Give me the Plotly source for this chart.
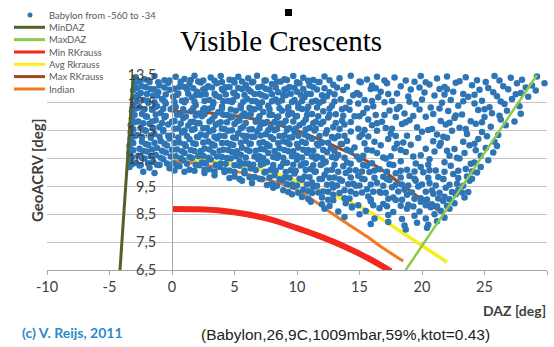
import plotly.graph_objects as go

# ---------------- data ----------------
babylon_points = [
    # band 13.3-13.5
    (-2.9,13.42),(-2.2,13.35),(-1.4,13.46),(-0.6,13.31),(0.3,13.44),(1.0,13.36),(1.8,13.47),(2.5,13.3),(3.1,13.41),
    (3.9,13.46),(4.6,13.33),(5.3,13.44),(6.1,13.38),(6.8,13.47),(7.4,13.3),(8.2,13.43),(9.0,13.35),(9.7,13.46),
    (10.5,13.4),(11.3,13.32),(12.2,13.45),(13.4,13.38),(14.3,13.47),(15.6,13.34),(16.4,13.44),(17.8,13.41),
    (18.7,13.3),(19.9,13.46),(21.2,13.37),(22.0,13.45),(23.5,13.42),(24.4,13.31),(25.8,13.46),(27.1,13.4),
    (28.0,13.33),(29.2,13.45),
    # band 13.05-13.28
    (-3.0,13.2),(-2.4,13.1),(-1.8,13.25),(-1.0,13.12),(-0.3,13.22),(0.6,13.08),(1.4,13.19),(2.1,13.27),(2.9,13.1),
    (3.6,13.2),(4.3,13.06),(5.0,13.23),(5.9,13.14),(6.5,13.26),(7.2,13.09),(8.0,13.18),(8.7,13.27),(9.4,13.07),
    (10.2,13.2),(11.0,13.12),(11.8,13.25),(12.9,13.15),(14.0,13.08),(15.1,13.24),(16.0,13.12),(17.2,13.2),
    (18.3,13.1),(19.4,13.26),(20.6,13.16),(21.8,13.07),(22.7,13.22),(24.0,13.13),(25.1,13.25),(26.5,13.1),
    (27.6,13.2),(28.8,13.12),(29.8,13.2),
    # band 12.8-13.05
    (-3.1,12.95),(-2.5,12.85),(-1.7,13.0),(-1.1,12.88),(-0.2,12.97),(0.5,12.84),(1.2,12.99),(2.0,12.9),(2.7,13.02),
    (3.4,12.83),(4.1,12.94),(4.9,12.86),(5.6,13.0),(6.3,12.91),(7.0,12.82),(7.8,12.97),(8.5,12.88),(9.2,13.01),
    (10.0,12.9),(10.8,12.83),(11.6,12.98),(12.6,12.88),(13.7,12.96),(14.8,12.85),(15.9,13.0),(16.7,12.9),
    (18.0,12.84),(19.1,12.98),(20.2,12.87),(21.4,13.0),(22.5,12.9),(23.3,12.82),(24.6,12.97),(25.7,12.88),
    (26.9,12.99),(27.9,12.85),(29.1,12.94),
    # band 12.55-12.8
    (-3.0,12.7),(-2.3,12.6),(-1.5,12.76),(-0.8,12.64),(0.1,12.72),(0.8,12.58),(1.6,12.69),(2.3,12.78),(3.0,12.6),
    (3.8,12.71),(4.5,12.57),(5.2,12.75),(6.0,12.65),(6.7,12.56),(7.5,12.73),(8.3,12.62),(9.1,12.77),(9.8,12.6),
    (10.6,12.7),(11.5,12.58),(12.4,12.74),(13.5,12.63),(14.5,12.77),(15.4,12.6),(16.5,12.7),(17.6,12.57),
    (18.9,12.73),(20.0,12.62),(21.0,12.76),(22.3,12.6),(23.7,12.72),(24.8,12.58),(26.0,12.74),(27.2,12.64),
    (28.5,12.72),
    # band 12.3-12.55
    (-3.1,12.45),(-2.6,12.33),(-1.9,12.5),(-1.2,12.38),(-0.5,12.48),(0.3,12.35),(1.0,12.52),(1.9,12.42),(2.6,12.31),
    (3.3,12.47),(4.0,12.37),(4.8,12.53),(5.5,12.4),(6.2,12.32),(6.9,12.49),(7.7,12.39),(8.5,12.52),(9.3,12.34),
    (10.1,12.46),(10.9,12.36),(11.8,12.5),(12.8,12.4),(13.9,12.32),(14.9,12.48),(16.1,12.38),(17.0,12.52),
    (18.2,12.35),(19.5,12.45),(20.7,12.33),(21.6,12.5),(22.9,12.4),(24.2,12.48),(25.4,12.34),(26.6,12.46),
    (27.8,12.38),
    # band 12.05-12.3
    (-3.2,12.2),(-2.4,12.1),(-1.6,12.25),(-0.9,12.14),(-0.1,12.27),(0.7,12.08),(1.5,12.2),(2.2,12.12),(2.9,12.28),
    (3.7,12.16),(4.4,12.06),(5.1,12.22),(5.8,12.12),(6.6,12.27),(7.3,12.17),(8.0,12.07),(8.8,12.22),(9.6,12.13),
    (10.4,12.28),(11.2,12.1),(12.1,12.2),(13.1,12.09),(14.2,12.25),(15.3,12.14),(16.3,12.06),(17.4,12.23),
    (18.6,12.12),(19.8,12.26),(20.9,12.1),(22.1,12.21),(23.2,12.08),(24.5,12.24),(25.6,12.13),(26.8,12.22),
    (27.9,12.11),
    # band 11.8-12.05
    (-3.2,11.95),(-2.7,11.83),(-2.0,12.0),(-1.3,11.88),(-0.6,11.98),(0.2,11.85),(0.9,11.96),(1.7,11.82),(2.4,12.02),
    (3.2,11.9),(3.9,11.8),(4.7,11.97),(5.4,11.87),(6.1,12.03),(6.9,11.92),(7.6,11.81),(8.4,11.98),(9.1,11.86),
    (9.9,12.01),(10.7,11.9),(11.5,11.82),(12.5,11.97),(13.6,11.86),(14.6,12.02),(15.7,11.9),(16.8,11.82),
    (17.9,11.99),(19.0,11.88),(20.3,12.0),(21.5,11.85),(22.6,11.96),(23.9,11.84),(25.0,11.99),(26.3,11.9),
    (27.4,11.83),
    # band 11.55-11.8
    (-3.3,11.7),(-2.5,11.6),(-1.8,11.75),(-1.0,11.63),(-0.3,11.72),(0.5,11.58),(1.3,11.69),(2.0,11.77),(2.8,11.6),
    (3.5,11.71),(4.2,11.56),(5.0,11.74),(5.7,11.64),(6.4,11.55),(7.1,11.72),(7.9,11.62),(8.6,11.76),(9.4,11.59),
    (10.2,11.7),(11.0,11.6),(11.9,11.75),(12.9,11.63),(13.8,11.72),(14.9,11.57),(16.0,11.7),(17.1,11.6),
    (18.4,11.74),(19.6,11.62),(20.8,11.56),(21.9,11.72),(23.0,11.61),(24.3,11.75),(25.5,11.64),(26.7,11.7),
    # band 11.3-11.55
    (-3.3,11.45),(-2.8,11.35),(-2.1,11.5),(-1.4,11.38),(-0.7,11.48),(0.0,11.33),(0.8,11.44),(1.6,11.53),(2.3,11.36),
    (3.0,11.47),(3.8,11.32),(4.5,11.5),(5.3,11.4),(6.0,11.31),(6.8,11.48),(7.5,11.37),(8.2,11.52),(9.0,11.34),
    (9.8,11.45),(10.6,11.36),(11.4,11.51),(12.3,11.4),(13.3,11.31),(14.3,11.47),(15.2,11.36),(16.4,11.5),
    (17.5,11.39),(18.8,11.32),(20.0,11.46),(21.2,11.36),(22.4,11.5),(23.6,11.38),(24.8,11.45),(26.1,11.35),
    # band 11.05-11.3
    (-3.3,11.2),(-2.4,11.1),(-1.7,11.25),(-0.9,11.13),(-0.2,11.22),(0.6,11.08),(1.4,11.19),(2.1,11.27),(2.9,11.11),
    (3.6,11.22),(4.4,11.06),(5.1,11.24),(5.9,11.14),(6.6,11.28),(7.3,11.09),(8.1,11.2),(8.9,11.12),(9.6,11.26),
    (10.4,11.1),(11.2,11.21),(12.0,11.07),(13.0,11.23),(14.0,11.13),(15.0,11.27),(16.2,11.1),(17.3,11.2),
    (18.5,11.08),(19.7,11.24),(20.9,11.12),(22.0,11.25),(23.3,11.1),(24.5,11.2),(25.8,11.1),
    # band 10.8-11.05
    (-3.4,10.95),(-2.6,10.85),(-1.9,11.0),(-1.2,10.88),(-0.4,10.97),(0.4,10.83),(1.1,10.95),(1.9,11.02),(2.6,10.86),
    (3.4,10.97),(4.1,10.82),(4.9,10.99),(5.6,10.89),(6.3,11.03),(7.1,10.84),(7.8,10.95),(8.6,10.87),(9.4,11.01),
    (10.1,10.9),(10.9,10.81),(11.7,10.97),(12.7,10.87),(13.6,11.02),(14.6,10.9),(15.6,10.82),(16.7,10.98),
    (17.8,10.87),(19.1,11.0),(20.3,10.85),(21.4,10.96),(22.6,10.84),(23.8,10.98),(25.1,10.88),(26.0,10.95),
    # band 10.55-10.8
    (-3.4,10.7),(-2.7,10.6),(-2.0,10.75),(-1.3,10.63),(-0.5,10.72),(0.3,10.58),(1.0,10.7),(1.8,10.77),(2.5,10.6),
    (3.3,10.71),(4.0,10.56),(4.8,10.74),(5.5,10.64),(6.2,10.77),(7.0,10.58),(7.7,10.7),(8.5,10.62),(9.3,10.76),
    (10.0,10.6),(10.8,10.71),(11.6,10.57),(12.4,10.73),(13.3,10.63),(14.3,10.77),(15.3,10.6),(16.4,10.7),
    (17.5,10.58),(18.7,10.74),(19.9,10.62),(21.0,10.75),(22.2,10.6),(23.4,10.7),(24.7,10.6),(25.7,10.72),
    # band 10.3-10.55
    (-3.4,10.45),(-2.9,10.35),(-2.2,10.5),(-1.5,10.38),(-0.7,10.48),(0.1,10.33),(0.9,10.44),(1.6,10.52),(2.4,10.36),
    (3.1,10.47),(3.9,10.32),(4.7,10.5),(5.4,10.4),(6.1,10.31),(6.9,10.48),(7.6,10.37),(8.4,10.52),(9.2,10.35),
    (10.0,10.46),(10.7,10.33),(11.5,10.49),(12.3,10.38),(13.1,10.52),(14.0,10.36),(15.0,10.47),(16.0,10.33),
    (17.1,10.5),(18.3,10.4),(19.5,10.32),(20.6,10.48),(21.8,10.37),(23.0,10.5),(24.2,10.36),(25.3,10.44),
    # band 10.05-10.3
    (-3.4,10.2),(-2.6,10.25),(-1.8,10.17),(-1.0,10.27),(-0.2,10.15),(0.6,10.22),(1.4,10.1),(2.2,10.26),(3.0,10.12),
    (3.8,10.2),(4.6,10.07),(5.4,10.24),(6.3,10.14),(7.1,10.28),(7.9,10.1),(8.7,10.21),(9.5,10.08),(10.3,10.25),
    (11.1,10.13),(11.9,10.27),(12.8,10.1),(13.7,10.22),(14.7,10.08),(15.6,10.24),(16.6,10.12),(17.7,10.27),
    (18.8,10.1),(19.9,10.2),(21.1,10.07),(22.3,10.24),(23.5,10.13),(24.7,10.2),
    (-2.3,10.03),(-1.4,9.98),
    # band 9.8-10.05
    (2.6,9.98),(3.4,9.9),(4.2,10.02),(5.0,9.86),(5.8,9.97),(6.6,9.84),(7.4,10.0),(8.2,9.9),(9.0,9.81),(9.8,9.96),
    (10.6,9.86),(11.4,10.03),(12.2,9.92),(13.0,9.82),(13.9,9.98),(14.9,9.88),(15.8,10.02),(16.9,9.85),(17.9,9.97),
    (19.0,9.87),(20.1,10.01),(21.3,9.84),(22.5,9.95),(23.6,9.86),(24.4,10.0),
    # band 9.55-9.8
    (5.6,9.7),(6.4,9.62),(7.2,9.76),(8.0,9.6),(8.8,9.72),(9.6,9.57),(10.4,9.74),(11.2,9.64),(12.0,9.77),(12.8,9.58),
    (13.6,9.7),(14.5,9.6),(15.4,9.76),(16.4,9.63),(17.4,9.73),(18.4,9.57),(19.5,9.7),(20.6,9.62),(21.7,9.77),
    (22.8,9.6),(23.8,9.7),
    # band 9.3-9.55
    (8.1,9.45),(8.9,9.36),(9.7,9.5),(10.5,9.38),(11.3,9.48),(12.1,9.32),(12.9,9.46),(13.8,9.36),(14.7,9.52),
    (15.6,9.4),(16.6,9.31),(17.6,9.47),(18.6,9.38),(19.7,9.5),(20.8,9.35),(21.9,9.45),(22.9,9.37),(23.7,9.3),
    # band 9.05-9.3
    (9.6,9.22),(10.4,9.12),(11.2,9.26),(12.0,9.1),(12.9,9.2),(13.8,9.08),(14.7,9.24),(15.7,9.14),(16.7,9.27),
    (17.7,9.1),(18.8,9.2),(19.9,9.08),(20.9,9.24),(21.8,9.13),(22.7,9.22),(23.4,9.1),
    # band 8.8-9.05
    (11.1,8.95),(12.0,8.86),(12.9,9.0),(13.9,8.9),(14.9,8.82),(15.9,8.97),(16.9,8.87),(17.9,9.01),(18.9,8.84),
    (19.9,8.95),(20.8,8.86),(21.7,8.98),(22.6,8.9),
    # band 8.55-8.8
    (12.2,8.7),(13.3,8.6),(14.4,8.74),(15.5,8.62),(16.6,8.72),(17.7,8.58),(18.8,8.7),(19.8,8.6),(20.7,8.75),
    (21.5,8.63),(22.2,8.7),
    # band 8.3-8.55
    (13.8,8.4),(15.0,8.5),(16.2,8.35),(17.3,8.47),(18.4,8.33),(19.4,8.45),(20.3,8.35),(21.0,8.5),(21.8,8.38),
    # band 7.85-8.3
    (15.9,8.15),(17.3,8.22),(18.6,8.1),(19.6,8.2),(20.5,8.12),(21.2,8.25),(18.7,7.95),(20.4,8.02),
]

babylon_points_more = [
    (-2.6,13.27),(-1.9,13.31),(-1.1,13.24),(-0.2,13.3),(0.7,13.26),(1.5,13.32),(2.3,13.23),(3.4,13.29),(4.0,13.25),
    (4.9,13.31),(5.6,13.27),(6.4,13.23),(7.5,13.3),(8.4,13.26),(9.2,13.32),(10.0,13.24),(10.9,13.29),(11.7,13.25),
    (12.6,13.31),(15.0,13.27),(17.0,13.3),(20.3,13.24),(23.0,13.28),(26.2,13.3),
    (-2.8,13.03),(-2.1,13.06),(-1.4,12.99),(-0.6,13.05),(0.2,13.01),(1.0,13.07),(1.7,13.02),(2.5,12.98),(3.2,13.05),
    (4.0,13.0),(4.6,13.07),(5.3,13.03),(6.1,12.99),(6.9,13.06),(7.5,13.01),(8.3,13.05),(9.0,12.98),(9.8,13.04),
    (10.5,13.0),(11.3,13.06),(12.2,13.02),(13.2,13.05),(16.3,13.02),(19.8,13.05),(22.0,12.99),(25.3,13.03),(28.3,13.05),
    (-2.7,12.79),(-2.0,12.82),(-1.2,12.76),(-0.5,12.8),(0.4,12.78),(1.3,12.83),(1.9,12.77),(2.7,12.81),(3.5,12.76),
    (4.3,12.8),(5.0,12.84),(5.8,12.78),(6.6,12.82),(7.2,12.77),(8.0,12.81),(8.9,12.78),(9.5,12.83),(10.3,12.79),
    (11.1,12.82),(12.0,12.77),(13.0,12.81),(15.0,12.79),(17.3,12.82),(21.8,12.8),(24.2,12.79),(27.5,12.81),
    (-2.8,12.55),(-2.0,12.58),(-1.4,12.52),(-0.6,12.56),(0.2,12.53),(1.1,12.59),(1.8,12.54),(2.6,12.57),(3.3,12.52),
    (4.1,12.56),(4.9,12.6),(5.7,12.54),(6.4,12.57),(7.2,12.52),(8.0,12.56),(8.8,12.59),(9.6,12.53),(10.4,12.57),
    (11.2,12.54),(12.1,12.58),(13.0,12.55),(14.2,12.53),(16.0,12.57),(19.0,12.54),(23.3,12.56),(26.3,12.55),
    (-2.9,12.3),(-2.2,12.27),(-1.4,12.33),(-0.7,12.29),(0.1,12.32),(0.9,12.27),(1.7,12.31),(2.5,12.26),(3.2,12.33),
    (4.0,12.29),(4.7,12.26),(5.5,12.31),(6.3,12.28),(7.0,12.33),(7.8,12.27),(8.6,12.31),(9.3,12.26),(10.1,12.32),
    (10.8,12.28),(11.6,12.33),(12.6,12.29),(13.6,12.27),(15.6,12.31),(18.0,12.28),(21.4,12.3),(25.0,12.27),
    (-3.0,12.06),(-2.1,12.02),(-1.3,12.08),(-0.5,12.03),(0.4,12.07),(1.1,12.01),(1.9,12.05),(2.6,12.09),(3.4,12.03),
    (4.1,12.07),(4.8,12.01),(5.6,12.05),(6.3,12.09),(7.0,12.02),(7.8,12.06),(8.5,12.01),(9.3,12.07),(10.0,12.03),
    (10.8,12.06),(11.7,12.02),(12.6,12.07),(13.7,12.04),(15.0,12.02),(17.0,12.06),(19.3,12.03),(22.7,12.05),(26.2,12.04),
    (-3.0,11.8),(-2.3,11.77),(-1.6,11.83),(-0.8,11.78),(0.0,11.82),(0.7,11.76),(1.5,11.81),(2.2,11.77),(3.0,11.83),
    (3.7,11.76),(4.4,11.8),(5.2,11.84),(5.9,11.78),(6.7,11.82),(7.4,11.77),(8.2,11.81),(8.9,11.76),(9.7,11.83),
    (10.5,11.79),(11.3,11.77),(12.1,11.82),(13.1,11.78),(14.3,11.81),(16.4,11.77),(18.7,11.8),(22.2,11.79),(24.8,11.8),
    (-3.1,11.55),(-2.2,11.52),(-1.5,11.58),(-0.7,11.53),(0.2,11.57),(1.0,11.51),(1.8,11.56),(2.5,11.59),(3.3,11.53),
    (4.0,11.57),(4.8,11.52),(5.5,11.58),(6.2,11.54),(7.0,11.59),(7.7,11.52),(8.4,11.56),(9.2,11.53),(9.9,11.58),
    (10.7,11.54),(11.5,11.57),(12.4,11.52),(13.4,11.56),(15.4,11.53),(17.6,11.57),(20.5,11.53),(23.5,11.56),
    (-3.0,11.3),(-2.4,11.27),(-1.7,11.33),(-1.0,11.28),(-0.3,11.32),(0.5,11.26),(1.2,11.31),(2.0,11.27),(2.7,11.33),
    (3.4,11.28),(4.2,11.31),(4.9,11.26),(5.7,11.32),(6.4,11.28),(7.1,11.33),(7.9,11.27),(8.6,11.31),(9.4,11.26),
    (10.1,11.32),(10.9,11.28),(11.8,11.31),(12.8,11.27),(13.8,11.32),(15.7,11.29),(17.9,11.31),(21.7,11.28),(25.2,11.3),
    (-3.1,11.06),(-2.1,11.02),(-1.4,11.07),(-0.6,11.03),(0.2,11.06),(1.0,11.01),(1.7,11.05),(2.5,11.08),(3.2,11.02),
    (4.0,11.06),(4.7,11.01),(5.5,11.07),(6.2,11.03),(7.0,11.06),(7.6,11.01),(8.5,11.05),(9.2,11.08),(10.0,11.02),
    (10.7,11.06),(11.6,11.03),(12.5,11.07),(13.5,11.02),(15.4,11.05),(18.0,11.03),(21.5,11.06),(24.2,11.03),
    (-3.1,10.8),(-2.3,10.77),(-1.6,10.83),(-0.8,10.78),(0.0,10.82),(0.8,10.76),(1.5,10.81),(2.3,10.77),(3.0,10.83),
    (3.8,10.78),(4.5,10.81),(5.2,10.76),(6.0,10.82),(6.7,10.78),(7.4,10.83),(8.2,10.77),(9.0,10.81),(9.7,10.76),
    (10.5,10.82),(11.3,10.78),(12.1,10.81),(13.0,10.77),(14.0,10.82),(16.0,10.79),(18.3,10.81),(22.0,10.78),(24.3,10.8),
    (-3.2,10.55),(-2.4,10.52),(-1.7,10.58),(-0.9,10.53),(-0.1,10.57),(0.7,10.51),(1.4,10.56),(2.1,10.59),(2.9,10.53),
    (3.6,10.57),(4.4,10.52),(5.1,10.58),(5.9,10.54),(6.6,10.57),(7.3,10.52),(8.1,10.56),(8.9,10.53),(9.6,10.58),
    (10.4,10.54),(11.2,10.57),(12.0,10.52),(12.8,10.56),(13.8,10.53),(14.8,10.57),(16.9,10.54),(19.3,10.57),(22.8,10.53),
    (-3.2,10.3),(-2.5,10.27),(-1.9,10.33),(-1.2,10.28),(-0.4,10.32),(0.4,10.26),(1.2,10.31),(1.9,10.28),(2.7,10.33),
    (3.5,10.27),(4.3,10.31),(5.0,10.26),(5.8,10.32),(6.5,10.28),(7.3,10.31),(8.1,10.27),(8.9,10.33),(9.7,10.28),
    (10.5,10.31),(11.3,10.26),(12.1,10.32),(13.0,10.28),(14.3,10.31),(15.3,10.27),(17.4,10.3),(20.5,10.28),(23.9,10.31),
    (0.2,10.07),(1.0,10.03),(1.8,10.06),(2.6,10.1),(3.4,10.04),(4.2,10.08),(5.0,10.02),(5.8,10.06),(6.7,10.09),
    (7.5,10.03),(8.3,10.07),(9.1,10.02),(9.9,10.06),(10.7,10.09),(11.5,10.04),(12.4,10.07),(13.3,10.03),(14.2,10.08),
    (15.2,10.04),(16.2,10.07),(17.2,10.03),(18.3,10.06),(19.4,10.04),(20.6,10.08),(21.8,10.03),(22.9,10.06),(24.0,10.04),
    (4.6,9.8),(5.4,9.77),(6.2,9.83),(7.0,9.78),(7.8,9.82),(8.6,9.76),(9.4,9.81),(10.2,9.78),(11.0,9.83),(11.8,9.77),
    (12.6,9.81),(13.4,9.76),(14.3,9.82),(15.2,9.78),(16.2,9.81),(17.2,9.77),(18.3,9.82),(19.4,9.78),(20.5,9.81),
    (21.7,9.77),(22.9,9.8),(24.0,9.78),
    (7.6,9.55),(8.4,9.52),(9.2,9.58),(10.0,9.53),(10.8,9.57),(11.6,9.52),(12.4,9.56),(13.2,9.53),(14.1,9.58),
    (15.0,9.53),(15.9,9.57),(16.9,9.52),(17.9,9.56),(18.9,9.53),(20.0,9.57),(21.1,9.53),(22.2,9.56),(23.3,9.52),
    (9.3,9.3),(10.1,9.27),(10.9,9.33),(11.7,9.28),(12.5,9.31),(13.4,9.26),(14.3,9.32),(15.2,9.28),(16.1,9.31),
    (17.1,9.27),(18.1,9.32),(19.2,9.28),(20.3,9.31),(21.4,9.27),(22.4,9.3),(23.2,9.28),
    (10.9,9.05),(12.5,9.02),(14.2,9.07),(15.9,9.03),(17.3,9.06),(18.4,9.02),(19.4,9.06),(20.4,9.03),(21.3,9.07),(22.2,9.04),
    (12.6,8.8),(14.4,8.78),(16.1,8.82),(17.2,8.79),(18.3,8.81),(19.3,8.78),(20.3,8.82),(21.2,8.79),(22.0,8.8),
]

babylon_daz = [p[0] for p in babylon_points + babylon_points_more]
babylon_geoacrv = [p[1] for p in babylon_points + babylon_points_more]

min_daz_x = [-4.16, -3.1]
min_daz_y = [6.5, 13.5]
max_daz_x = [18.7, 29.2]
max_daz_y = [6.5, 13.5]

min_rk_x = [0, 2, 4, 6, 8, 10, 12, 14, 16, 17.5]
min_rk_y = [8.69, 8.68, 8.63, 8.5, 8.3, 8.0, 7.68, 7.3, 6.85, 6.45]

avg_rk_x = [0, 2, 4.5, 7.3, 10.5, 13.2, 15.8, 18.5, 22.0]
avg_rk_y = [10.47, 10.45, 10.32, 10.09, 9.61, 9.13, 8.59, 7.82, 6.78]

max_rk_x = [0, 3.5, 7.0, 10.2, 13.4, 16.4, 19.3, 21.7]
max_rk_y = [12.2, 12.12, 11.88, 11.47, 10.87, 10.21, 9.25, 8.53]

indian_x = [0, 2, 4, 5.2, 7.3, 8.7, 10, 11.3, 12.6, 14, 15.6, 17, 18.5]
indian_y = [10.4, 10.32, 10.15, 10.03, 9.79, 9.6, 9.37, 9.0, 8.59, 8.17, 7.7, 7.25, 6.82]

x_ticks = [-10, -5, 0, 5, 10, 15, 20, 25, 30]
x_tick_labels = ["-10", "-5", "0", "5", "10", "15", "20", "25", "30"]

legend_names = ["Babylon from -560 to -34", "MinDAZ", "MaxDAZ", "Min RKrauss",
                "Avg Rkrauss", "Max RKrauss", "Indian"]

# ---------------- styles ----------------
C_DOT = "#2E75B6"
C_MIN = "#4F6228"
C_MAX = "#8CCB4A"
C_RED = "#F2281E"
C_YEL = "#F7EE1A"
C_BRN = "#9C4A1C"
C_ORG = "#F07A22"

W, H = 554, 347
L, R, T, B = 47, 7, 75, 77


def px(x):
    return (x - L) / (W - L - R)


def py(y):
    return (H - B - y) / (H - T - B)


fig = go.Figure()
fig.add_trace(go.Scatter(x=max_rk_x, y=max_rk_y, mode="lines", name="Max RKrauss",
                         line=dict(color=C_BRN, width=3, shape="spline")))
fig.add_trace(go.Scatter(x=avg_rk_x, y=avg_rk_y, mode="lines", name="Avg Rkrauss",
                         line=dict(color=C_YEL, width=3.5, shape="spline")))
fig.add_trace(go.Scatter(x=indian_x, y=indian_y, mode="lines", name="Indian",
                         line=dict(color=C_ORG, width=3, shape="spline")))
fig.add_trace(go.Scatter(x=min_rk_x, y=min_rk_y, mode="lines", name="Min RKrauss",
                         line=dict(color=C_RED, width=6, shape="spline")))
fig.add_trace(go.Scatter(x=babylon_daz, y=babylon_geoacrv, mode="markers",
                         name=legend_names[0], cliponaxis=False,
                         marker=dict(color=C_DOT, size=6.5, line=dict(width=0))))
fig.add_trace(go.Scatter(x=min_daz_x, y=min_daz_y, mode="lines", name="MinDAZ",
                         line=dict(color=C_MIN, width=3)))
fig.add_trace(go.Scatter(x=max_daz_x, y=max_daz_y, mode="lines", name="MaxDAZ",
                         line=dict(color=C_MAX, width=2.5)))

tick_font = dict(family="Lato, Liberation Sans, sans-serif", size=14.5, color="#404040")

fig.update_layout(
    width=W, height=H,
    margin=dict(l=L, r=R, t=T, b=B),
    paper_bgcolor="white", plot_bgcolor="white",
    showlegend=False,
    separators=", ",
    xaxis=dict(range=[-10, 30], tickmode="array", tickvals=x_ticks, ticktext=x_tick_labels,
               showgrid=False, zeroline=False, showline=True, linecolor="#A6A6A6", linewidth=1,
               ticks="outside", ticklen=4, tickcolor="#A6A6A6", tickfont=tick_font),
    yaxis=dict(range=[6.5, 13.5], tick0=6.5, dtick=1, tickformat=".1f",
               showgrid=True, gridcolor="#C4C4C4", gridwidth=1, zeroline=False,
               showline=True, linecolor="#A6A6A6", linewidth=1,
               anchor="free", position=0.25, ticks="", ticklabelstandoff=13,
               tickfont=tick_font),
)

annotations = [
    dict(text="Visible Crescents", x=px(281), y=py(41), xanchor="center", yanchor="middle",
         font=dict(family="Liberation Serif, Times New Roman, serif", size=29, color="#000000")),
    dict(text="<b>GeoACRV [deg]</b>", x=px(37), y=py(171), xanchor="center", yanchor="middle",
         textangle=-90, font=dict(family="Lato, sans-serif", size=15, color="#404040")),
    dict(text="<b>DAZ [deg]</b>", x=px(548), y=py(310), xanchor="right", yanchor="middle",
         font=dict(family="Lato, sans-serif", size=14, color="#404040")),
    dict(text="<b>(c) V. Reijs, 2011</b>", x=px(20), y=py(332), xanchor="left", yanchor="middle",
         font=dict(family="Lato, sans-serif", size=14, color="#2B8AD0")),
    dict(text="(Babylon,26,9C,1009mbar,59%,ktot=0.43)", x=px(345), y=py(334),
         xanchor="center", yanchor="middle",
         font=dict(family="Liberation Sans, Arial, sans-serif", size=15.5, color="#222222")),
]

shapes = [
    # black square above the title
    dict(type="rect", xref="paper", yref="paper", x0=px(285), x1=px(292), y0=py(16), y1=py(9),
         fillcolor="#000000", line=dict(width=0), layer="above"),
    # legend background
    dict(type="rect", xref="paper", yref="paper", x0=px(44), x1=px(98), y0=py(82), y1=py(70),
         fillcolor="white", line=dict(width=0), layer="above"),
]

legend_rows = [15, 27.3, 39.6, 52, 64.3, 76.6, 89]
legend_colors = [C_DOT, C_MIN, C_MAX, C_RED, C_YEL, C_BRN, C_ORG]
for i, (name, col, yy) in enumerate(zip(legend_names, legend_colors, legend_rows)):
    if i == 0:
        shapes.append(dict(type="circle", xref="paper", yref="paper",
                           x0=px(27.5), x1=px(32.5), y0=py(yy + 2.5), y1=py(yy - 2.5),
                           fillcolor=col, line=dict(width=0), layer="above"))
    else:
        shapes.append(dict(type="line", xref="paper", yref="paper",
                           x0=px(14), x1=px(45), y0=py(yy), y1=py(yy),
                           line=dict(color=col, width=3), layer="above"))
    annotations.append(dict(text=name, x=px(47), y=py(yy), xanchor="left", yanchor="middle",
                            showarrow=False,
                            font=dict(family="Lato, sans-serif", size=9.5, color="#595959")))

for a in annotations:
    a.setdefault("showarrow", False)
    a["xref"] = "paper"
    a["yref"] = "paper"

fig.update_layout(annotations=annotations, shapes=shapes)
fig.write_html("out.html", config={"displayModeBar": False},
               post_script="document.body.style.margin='0';document.body.style.overflow='hidden';")
